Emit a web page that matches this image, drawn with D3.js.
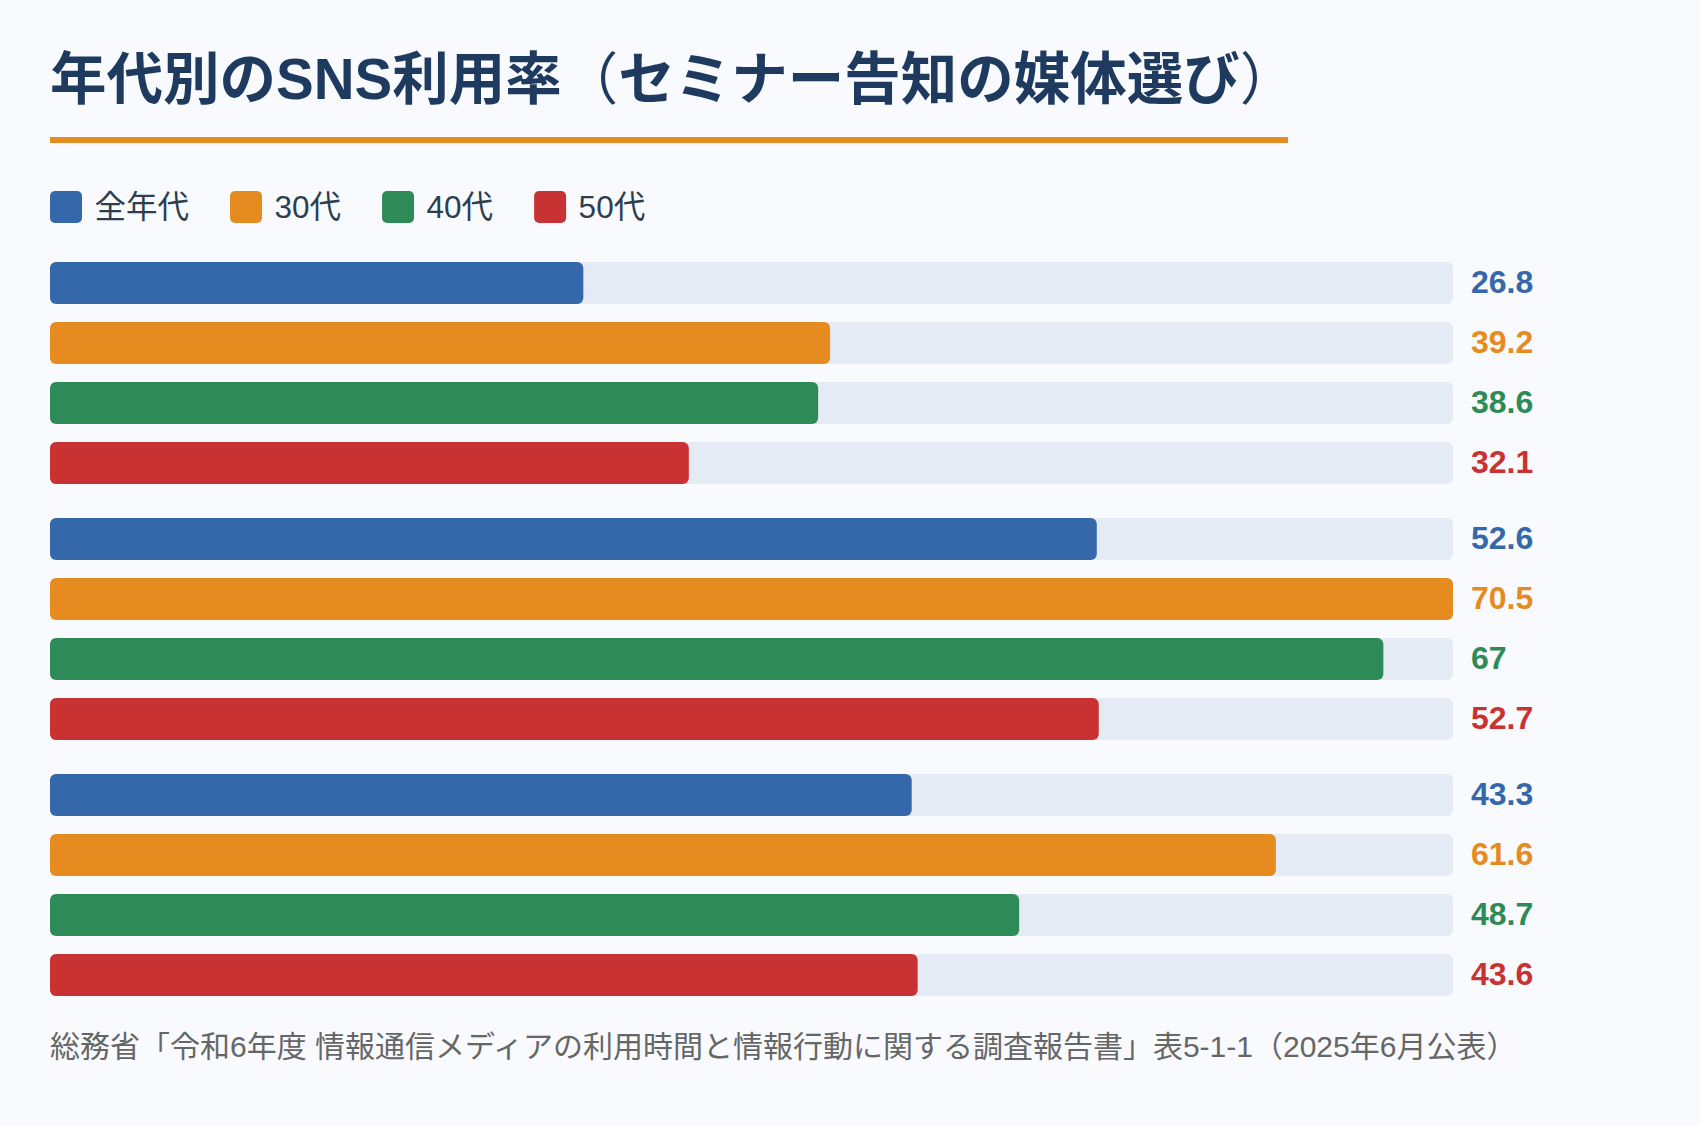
<!DOCTYPE html>
<html lang="ja">
<head>
<meta charset="utf-8">
<script src="https://cdn.jsdelivr.net/npm/d3@7"></script>
<style>
	html, body { margin: 0; padding: 0; background: #f8fafd; }
	svg { display: block; font-family: "Liberation Sans", Arial, "Noto Sans CJK JP", sans-serif; }
</style>
</head>
<body>
<svg id="chart" width="1700" height="1126"></svg>
<script>
// data
var titleParts = ["年代別のSNS利用率", "（", "セミナー告知の媒体選び", "）"];
var sourceText = "総務省「令和6年度 情報通信メディアの利用時間と情報行動に関する調査報告書」表5-1-1（2025年6月公表）";
var groups = ["g1", "g2", "g3"];
var seriesNames = ["全年代", "30代", "40代", "50代"];
var seriesColors = ["#3567ab", "#e68b1f", "#2e8b57", "#c83232"];
var valuesAll = [26.8, 52.6, 43.3];
var values30 = [39.2, 70.5, 61.6];
var values40 = [38.6, 67, 48.7];
var values50 = [32.1, 52.7, 43.6];

var seriesValues = [valuesAll, values30, values40, values50];

var svg = d3.select("#chart"),
	left = 50,
	trackRight = 1453;

var rows = [];
groups.forEach(function(g, gi){
	seriesNames.forEach(function(s, si){
		rows.push({group: g, series: s, value: seriesValues[si][gi], color: seriesColors[si]});
	});
});

var x = d3.scaleLinear()
	.domain([0, d3.max(rows, function(d){return d.value;})])
	.range([left, trackRight]);

var y0 = d3.scaleBand()
	.domain(groups)
	.range([262, 996])
	.paddingInner(34 / 256);

var y1 = d3.scaleBand()
	.domain(seriesNames)
	.range([0, y0.bandwidth()])
	.paddingInner(0.3);

var color = d3.scaleOrdinal().domain(seriesNames).range(seriesColors);

// title (the brackets are drawn thin, as in the original)
var title = svg.append("text")
	.attr("x", left)
	.attr("y", 79)
	.attr("dominant-baseline", "central")
	.attr("font-size", 56.5)
	.attr("font-weight", "bold")
	.attr("fill", "#1f3a5f");
title.selectAll("tspan")
	.data(titleParts)
	.enter().append("tspan")
		.attr("font-weight", function(d, i){return i % 2 ? "normal" : "bold";})
		.text(function(d){return d;});

svg.append("rect")
	.attr("x", left)
	.attr("y", 137)
	.attr("width", 1288 - left)
	.attr("height", 6)
	.attr("fill", "#e68b1f");

// legend
var legend = svg.append("g").attr("class", "legend");
var lx = left;
seriesNames.forEach(function(name){
	var item = legend.append("g").attr("transform", "translate(" + lx + ",191)");
	item.append("rect")
		.attr("width", 32)
		.attr("height", 32)
		.attr("rx", 5)
		.attr("fill", color(name));
	var t = item.append("text")
		.attr("x", 44.5)
		.attr("y", 16)
		.attr("dominant-baseline", "central")
		.attr("font-size", 31.5)
		.attr("fill", "#2c3e50")
		.text(name);
	lx += 44.5 + t.node().getComputedTextLength() + 41;
});

// bars
var g = svg.append("g");
var groupG = g.selectAll(".group")
	.data(groups)
	.enter().append("g")
		.attr("class", "group")
		.attr("transform", function(d){return "translate(0," + y0(d) + ")";});

var bar = groupG.selectAll(".bar")
	.data(function(gname){return rows.filter(function(r){return r.group === gname;});})
	.enter().append("g")
		.attr("class", "bar")
		.attr("transform", function(d){return "translate(0," + y1(d.series) + ")";});

bar.append("rect")
	.attr("x", x(0))
	.attr("width", x.range()[1] - x(0))
	.attr("height", y1.bandwidth())
	.attr("rx", 6)
	.attr("fill", "#e4ebf5");

bar.append("rect")
	.attr("x", x(0))
	.attr("width", function(d){return x(d.value) - x(0);})
	.attr("height", y1.bandwidth())
	.attr("rx", 6)
	.attr("fill", function(d){return d.color;});

bar.append("text")
	.attr("x", x.range()[1] + 18)
	.attr("y", y1.bandwidth() / 2 - 1)
	.attr("dominant-baseline", "central")
	.attr("font-size", 32)
	.attr("font-weight", "bold")
	.attr("fill", function(d){return d.color;})
	.text(function(d){return d.value;});

// source note
svg.append("text")
	.attr("x", left)
	.attr("y", 1046)
	.attr("dominant-baseline", "central")
	.attr("font-size", 30)
	.attr("fill", "#666")
	.text(sourceText);
</script>
</body>
</html>
